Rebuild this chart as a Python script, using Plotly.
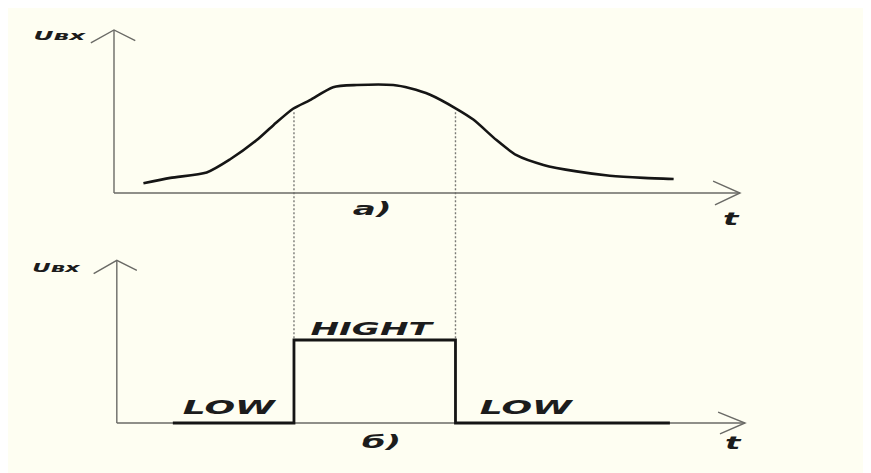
import numpy as np
import plotly.graph_objects as go

# input voltage Uвх(t), diagram a)
t_in = [4.7, 9.0, 14.8, 18.5, 22.8, 25.5, 28.6, 31.3, 35.0, 38.8, 44.6, 47.3,
        50.5, 54.7, 57.4, 61.1, 64.3, 68.6, 73.9, 79.2, 84.6, 89.4]
u_in = [0.09, 0.14, 0.19, 0.31, 0.49, 0.63, 0.78, 0.86, 0.98, 1.0, 1.0, 0.97,
        0.91, 0.78, 0.68, 0.49, 0.35, 0.26, 0.20, 0.16, 0.14, 0.13]

# logic level, diagram б)
t_edges = [28.75, 54.55]
t_logic = [9.4, 28.75, 28.75, 54.55, 54.55, 88.8]
v_logic = [0, 0, 1, 1, 0, 0]

# page geometry (screen pixels); the page body adds an 8px margin
W, H = 871, 473
OFF = 8
ORIGIN_X, PX_T = 114, 6.26
TOP_Y0, PX_U = 193, 108
BOT_Y0, PX_V = 423, 83

x_range = [(OFF - ORIGIN_X) / PX_T, (OFF + W - ORIGIN_X) / PX_T]
y_range = [(TOP_Y0 - OFF - H) / PX_U, (TOP_Y0 - OFF) / PX_U]
y2_range = [(BOT_Y0 - OFF - H) / PX_V, (BOT_Y0 - OFF) / PX_V]


def paper_y(py):
    return 1 - (py - OFF) / H


AXIS = dict(color='#6a6a66', width=1.4)
INK = '#151515'
FONT = dict(family='DejaVu Sans', color='#1c1c1c', weight='bold', style='italic')

fig = go.Figure()
fig.add_trace(go.Scatter(x=t_in, y=u_in, mode='lines', hoverinfo='skip',
                         line=dict(shape='spline', smoothing=0.7, color=INK, width=2.6)))
fig.add_trace(go.Scatter(x=t_logic, y=v_logic, mode='lines', yaxis='y2', hoverinfo='skip',
                         line=dict(color=INK, width=2.8)))

shapes = []
# axes a)
t_end, u_end = 100, 1.51
shapes.append(dict(type='line', xref='x', yref='y', x0=0, y0=0, x1=t_end, y1=0, line=AXIS))
shapes.append(dict(type='line', xref='x', yref='y', x0=0, y0=0, x1=0, y1=u_end, line=AXIS))
shapes.append(dict(type='path', xref='x', yref='y', line=AXIS,
                   path=f'M {t_end - 4.3},0.11 L {t_end},0 L {t_end - 4.0},-0.11'))
shapes.append(dict(type='path', xref='x', yref='y', line=AXIS,
                   path=f'M -3.7,{u_end - 0.12} L 0,{u_end} L 3.4,{u_end - 0.10}'))
# axes б)
t0b, t_endb, v_end = 0.45, 100.8, 1.96
shapes.append(dict(type='line', xref='x', yref='y2', x0=t0b, y0=0, x1=t_endb, y1=0, line=AXIS))
shapes.append(dict(type='line', xref='x', yref='y2', x0=t0b, y0=0, x1=t0b, y1=v_end, line=AXIS))
shapes.append(dict(type='path', xref='x', yref='y2', line=AXIS,
                   path=f'M {t_endb - 4.3},0.13 L {t_endb},0 L {t_endb - 4.0},-0.13'))
shapes.append(dict(type='path', xref='x', yref='y2', line=AXIS,
                   path=f'M {t0b - 3.7},{v_end - 0.16} L {t0b},{v_end} L {t0b + 3.2},{v_end - 0.12}'))
# dashed projections from the threshold crossings down to the pulse edges
for te in t_edges:
    u = np.interp(te, t_in, u_in)
    shapes.append(dict(type='line', xref='x', yref='paper', x0=te, x1=te,
                       y0=paper_y(TOP_Y0 - u * PX_U + 4), y1=paper_y(BOT_Y0 - PX_V),
                       line=dict(color='#7a7a76', width=1.4, dash='2px,2px')))
for s in shapes:
    s['layer'] = 'below'


def label(text, x, y, yref, size):
    return dict(text=text, x=x, y=y, xref='x', yref=yref, showarrow=False,
                font=dict(size=size, **FONT))


annotations = [
    label('Uвх', -8.6, 1.46, 'y', 13),
    label('а)', 41.2, -0.14, 'y', 18),
    label('t', 98.6, -0.24, 'y', 17),
    label('Uвх', -9.1, 1.87, 'y2', 12),
    label('HIGHT', 41.4, 1.14, 'y2', 18),
    label('LOW', 18.5, 0.19, 'y2', 19),
    label('LOW', 66.0, 0.19, 'y2', 19),
    label('б)', 42.7, -0.22, 'y2', 18),
    label('t', 99.0, -0.24, 'y2', 17),
]

fig.update_layout(
    width=W, height=H,
    margin=dict(l=0, r=0, t=0, b=0),
    paper_bgcolor='#FEFEF2', plot_bgcolor='#FEFEF2',
    showlegend=False,
    xaxis=dict(range=x_range, visible=False, fixedrange=True),
    yaxis=dict(range=y_range, visible=False, fixedrange=True),
    yaxis2=dict(range=y2_range, visible=False, fixedrange=True, overlaying='y'),
    shapes=shapes,
    annotations=annotations,
)

# the original drawing is stretched about 1.9x horizontally; widen the lettering the same way
stretch_js = """
var gd = document.getElementById('{plot_id}');
gd.querySelectorAll('text.annotation-text').forEach(function (el) {
    var b = el.getBBox();
    var cx = b.x + b.width / 2;
    el.setAttribute('transform', 'translate(' + cx + ',0) scale(1.9,1) translate(' + (-cx) + ',0)');
});
"""

fig.write_html("out.html", post_script=stretch_js)
